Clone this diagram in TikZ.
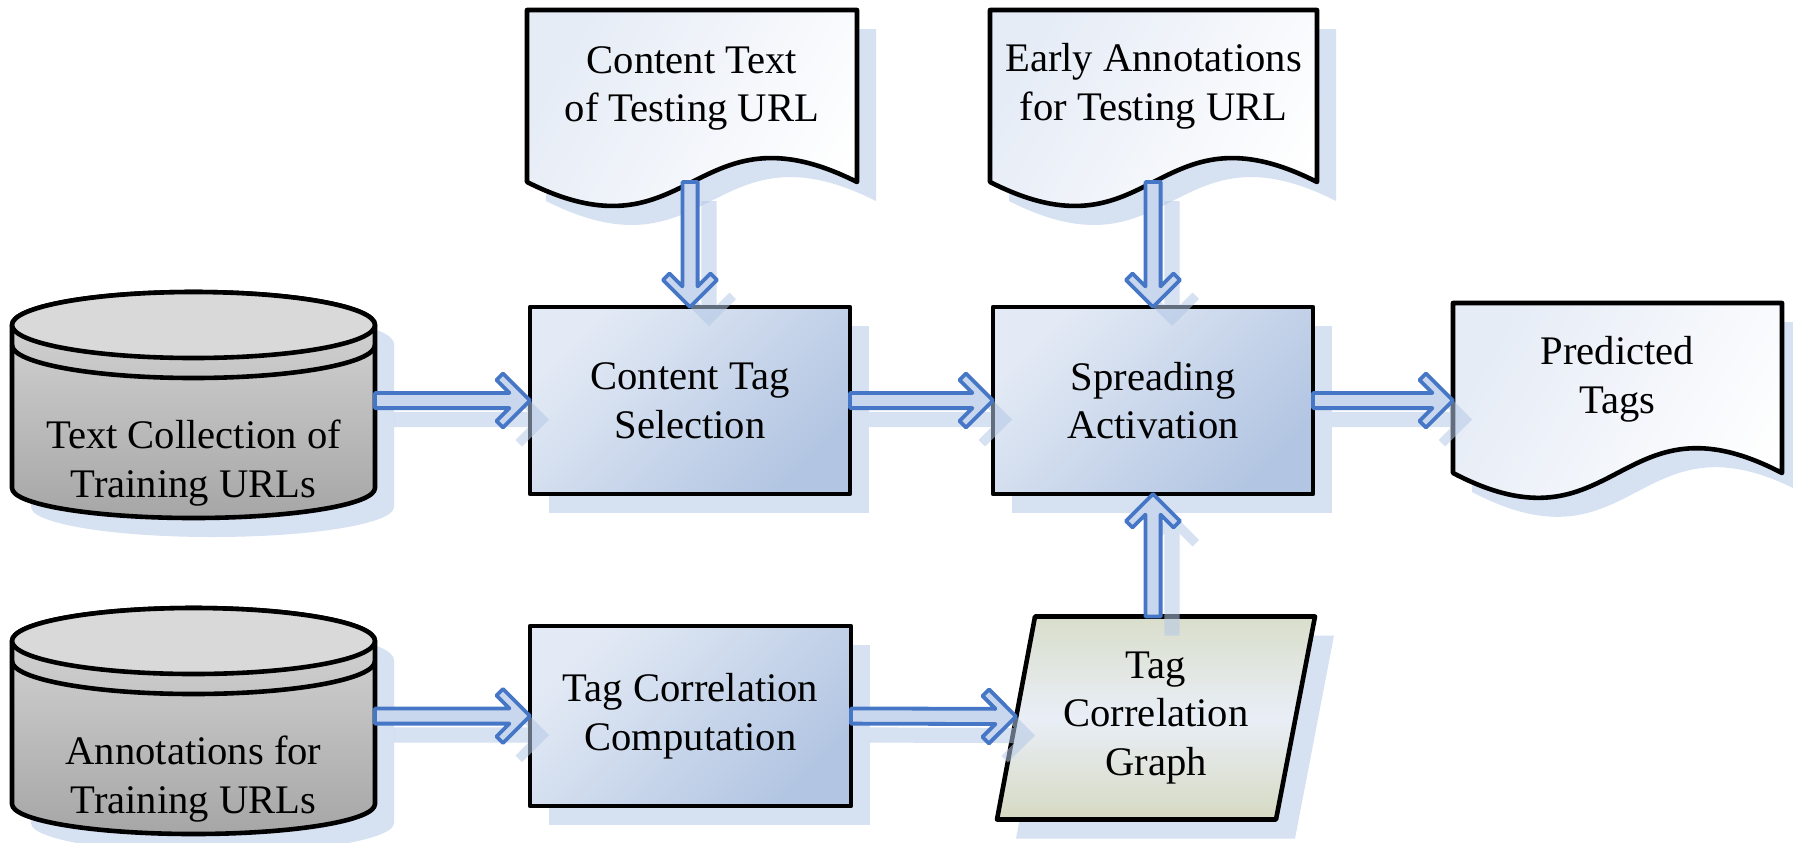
\documentclass[tikz,border=0pt]{standalone}
\usepackage{fontspec}
\setmainfont{Liberation Serif}
\usetikzlibrary{calc,shadows,backgrounds}

\definecolor{shadowblue}{HTML}{B4C8E6}
\definecolor{arrowblue}{HTML}{4676C6}
\definecolor{arrowfill}{HTML}{C8D6EE}
\definecolor{boxlight}{HTML}{E3EAF5}
\definecolor{boxdark}{HTML}{B2C5E2}
\definecolor{doclight}{HTML}{E6ECF6}
\definecolor{graytop}{HTML}{D8D8D8}
\definecolor{graybottom}{HTML}{A6A6A6}
\definecolor{graylid}{HTML}{D9D9D9}
\definecolor{pgtop}{HTML}{D9DECB}
\definecolor{pgmid}{HTML}{E9EEF7}
\definecolor{pgbottom}{HTML}{D6DAC2}

% multi-line label moved up or down inside its shape without changing the node size
\newcommand\placedtext[2]{\raisebox{#1}[0pt][0pt]{\begin{tabular}{@{}c@{}}#2\end{tabular}}}

\tikzset{
  outline/.style={draw=black, line width=2.3pt, line join=round},
  castshadow/.style={general shadow={fill=shadowblue, opacity=0.55,
      shadow xshift=9.5pt, shadow yshift=-9.5pt}},
  holder/.style={inner sep=0pt, outer sep=0pt, align=center},
  procbox/.style={holder, outline, castshadow, top color=boxlight,
      bottom color=boxdark, shading angle=45},
  flowline/.style={draw=arrowblue, line width=1.9pt, fill=arrowfill,
      line join=round, castshadow},
}

% document symbol with a wavy lower edge, drawn round a holder node
\newcommand\drawdoc[2]{%
  \draw[outline, castshadow, left color=doclight, right color=white, shading angle=60]
    (#1.north west) -- (#1.north east) -- (#1.south east)
    .. controls ($(#1.south)+(0,-#2)$) and ($(#1.south)+(0,#2)$) .. (#1.south west)
    -- cycle;}

% database cylinder: body, lid and the rim line under the lid
\newcommand\drawcyl[1]{%
  \draw[outline, castshadow, top color=graytop, bottom color=graybottom]
    (#1.north west) -- (#1.south west)
    .. controls ($(#1.south west)+(0,16.6)$) and ($(#1.south)+(-100.2,30)$) .. ($(#1.south)+(0,30)$)
    .. controls ($(#1.south)+(100.2,30)$) and ($(#1.south east)+(0,16.6)$) .. (#1.south east)
    -- (#1.north east)
    .. controls ($(#1.north east)+(0,-18.2)$) and ($(#1.north)+(100.2,-33)$) .. ($(#1.north)+(0,-33)$)
    .. controls ($(#1.north)+(-100.2,-33)$) and ($(#1.north west)+(0,-18.2)$) .. (#1.north west)
    -- cycle;
  \draw[outline, fill=graylid] (#1.north) ellipse [x radius=90.75pt, y radius=16.5pt];
  \draw[outline] ($(#1.north west)+(0,20)$)
    .. controls ($(#1.north west)+(0,38.2)$) and ($(#1.north)+(-100.2,53)$) .. ($(#1.north)+(0,53)$)
    .. controls ($(#1.north)+(100.2,53)$) and ($(#1.north east)+(0,38.2)$) .. ($(#1.north east)+(0,20)$);}

% hollow block arrow with a chevron head, from #1 (tail) to #2 (tip)
\newcommand\flowarrow[2]{%
  \draw[flowline]
    ($(#1)!3.8pt!90:(#2)$)
    -- ($(#2)!10.3pt!(#1)!3.8pt!-90:(#1)$)
    -- ($(#2)!16.75pt!(#1)!10.25pt!-90:(#1)$)
    -- ($(#2)!13.5pt!(#1)!13.5pt!-90:(#1)$)
    -- (#2)
    -- ($(#2)!13.5pt!(#1)!13.5pt!90:(#1)$)
    -- ($(#2)!16.75pt!(#1)!10.25pt!90:(#1)$)
    -- ($(#2)!10.3pt!(#1)!3.8pt!90:(#1)$)
    -- ($(#1)!3.8pt!-90:(#2)$)
    -- cycle;}

\begin{document}
\begin{tikzpicture}[x=0.5pt, y=-0.5pt,
    every node/.style={font=\fontsize{20.3pt}{24.3pt}\selectfont}]
\useasboundingbox (0,0) rectangle (1793,842);

% process steps
\node[procbox, minimum width=160pt, minimum height=93.5pt] (cts) at (690,400.5) {Content Tag\\Selection};
\node[procbox, minimum width=160pt, minimum height=93.5pt] (sa) at (1153,400.5) {Spreading\\Activation};
\node[procbox, minimum width=160.5pt, minimum height=90pt] (tcc) at (690.5,716) {Tag Correlation\\Computation};

% documents, data stores and the graph
\node[holder, minimum width=165pt, minimum height=86pt] (doc1) at (692,96)
  {\placedtext{-1pt}{Content Text\\of Testing URL}};
\node[holder, minimum width=163.5pt, minimum height=86pt] (doc2) at (1153.5,96)
  {\placedtext{-0.3pt}{Early Annotations\\for Testing URL}};
\node[holder, minimum width=164.5pt, minimum height=85pt] (pred) at (1617.5,388)
  {\placedtext{-0.8pt}{Predicted\\Tags}};
\node[holder, minimum width=181.5pt, minimum height=81.5pt] (cyl1) at (193.5,406.5)
  {\placedtext{-33.6pt}{Text Collection of\\Training URLs}};
\node[holder, minimum width=181.5pt, minimum height=81.5pt] (cyl2) at (193.5,722.5)
  {\placedtext{-33.6pt}{Annotations for\\Training URLs}};
\node[holder, minimum width=159pt, minimum height=101.5pt] (pg) at (1156,718)
  {Tag\\Correlation\\Graph};

\begin{scope}[on background layer]
  \drawdoc{doc1}{83}
  \drawdoc{doc2}{83}
  \drawdoc{pred}{86}
  \drawcyl{cyl1}
  \drawcyl{cyl2}
  \draw[outline, castshadow, top color=pgtop, bottom color=pgbottom, middle color=pgmid]
    ($(pg.north west)+(38,0)$) -- (pg.north east) -- ($(pg.south east)+(-39,0)$)
    -- (pg.south west) -- cycle;
\end{scope}

% entry point on the slanted side of the graph symbol
\coordinate (pgleft) at ($(pg.west)+(19,-1.5)$);

% data flow
\flowarrow{cyl1.east |- cts.west}{cts.west}
\flowarrow{cts.east}{sa.west}
\flowarrow{sa.east}{pred.west |- sa.east}
\flowarrow{cyl2.east |- tcc.west}{tcc.west}
\flowarrow{tcc.east}{pgleft}
\flowarrow{doc1.south -| cts.north}{cts.north}
\flowarrow{doc2.south -| sa.north}{sa.north}
\flowarrow{pg.north -| sa.south}{sa.south}
\end{tikzpicture}
\end{document}
